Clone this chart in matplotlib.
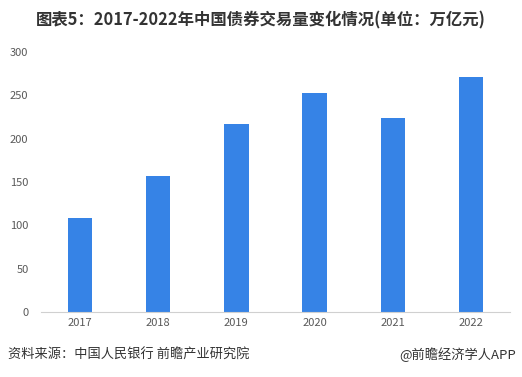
import matplotlib
matplotlib.use("Agg")
import matplotlib.pyplot as plt

plt.rcParams['font.family'] = ['Noto Sans CJK SC', 'DejaVu Sans']

years = ['2017', '2018', '2019', '2020', '2021', '2022']
values = [108.5, 157, 217, 253, 224, 271]
yticks = [0, 50, 100, 150, 200, 250, 300]

fig = plt.figure(figsize=(5.22, 3.77), dpi=100)
ax = fig.add_axes([41/522, 1-312/377, (510-41)/522, 260/377])

x = range(len(years))
ax.bar(x, values, width=0.31, color='#3683e6', zorder=2)
ax.set_xlim(-0.5, len(years)-0.5)
ax.set_ylim(0, 300)
ax.set_yticks(yticks)
ax.set_xticks(list(x))
ax.set_xticklabels(years)
for s in ['top', 'right', 'left']:
    ax.spines[s].set_visible(False)
ax.spines['bottom'].set_color('#d0d0d0')
ax.tick_params(axis='both', length=0, labelsize=8, labelcolor='#595959')
ax.tick_params(axis='y', pad=9)
ax.tick_params(axis='x', pad=4)

fig.text(0.5, 1-20/377, '图表5：2017-2022年中国债券交易量变化情况(单位：万亿元)',
         ha='center', va='center', fontsize=11.8, fontweight='bold', color='#333333')
fig.text(8/522, 1-355/377, '资料来源：中国人民银行 前瞻产业研究院',
         ha='left', va='center', fontsize=9.5, color='#333333')
fig.text(516/522, 1-355/377, '@前瞻经济学人APP',
         ha='right', va='center', fontsize=9.5, color='#333333')

fig.savefig('out.png', dpi=100)
